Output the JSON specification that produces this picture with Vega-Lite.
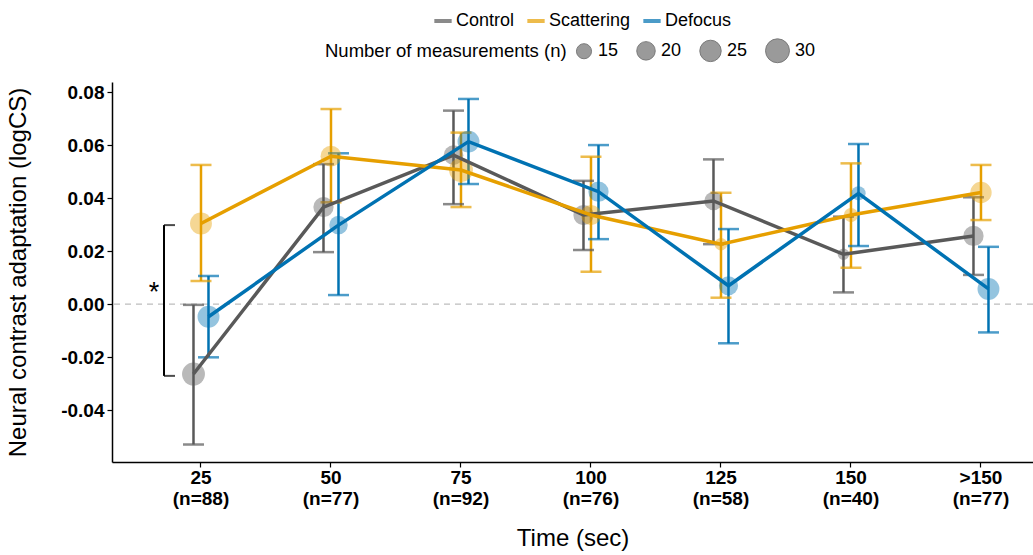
{
  "$schema": "https://vega.github.io/schema/vega-lite/v6.json",
  "width": 921,
  "height": 380,
  "autosize": {"type": "none"},
  "padding": {"left": 112, "top": 82, "right": 0, "bottom": 93},
  "background": "white",
  "config": {
    "view": {"stroke": null},
    "font": "Liberation Sans",
    "axis": {"grid": false}
  },
  "datasets": {
    "stats": [
      {"time": "25|(n=88)", "group": "Control", "mean": -0.0264, "lo": -0.0530, "hi": -0.0003, "n": 28},
      {"time": "50|(n=77)", "group": "Control", "mean": 0.0366, "lo": 0.0196, "hi": 0.0528, "n": 23},
      {"time": "75|(n=92)", "group": "Control", "mean": 0.0562, "lo": 0.0377, "hi": 0.0730, "n": 22},
      {"time": "100|(n=76)", "group": "Control", "mean": 0.0336, "lo": 0.0204, "hi": 0.0465, "n": 23},
      {"time": "125|(n=58)", "group": "Control", "mean": 0.0389, "lo": 0.0226, "hi": 0.0546, "n": 20},
      {"time": "150|(n=40)", "group": "Control", "mean": 0.0188, "lo": 0.0044, "hi": 0.0330, "n": 11},
      {"time": ">150|(n=77)", "group": "Control", "mean": 0.0257, "lo": 0.0110, "hi": 0.0403, "n": 23},
      {"time": "25|(n=88)", "group": "Scattering", "mean": 0.0304, "lo": 0.0087, "hi": 0.0525, "n": 26},
      {"time": "50|(n=77)", "group": "Scattering", "mean": 0.0558, "lo": 0.0384, "hi": 0.0736, "n": 24},
      {"time": "75|(n=92)", "group": "Scattering", "mean": 0.0506, "lo": 0.0366, "hi": 0.0647, "n": 30},
      {"time": "100|(n=76)", "group": "Scattering", "mean": 0.0336, "lo": 0.0122, "hi": 0.0556, "n": 23},
      {"time": "125|(n=58)", "group": "Scattering", "mean": 0.0226, "lo": 0.0024, "hi": 0.0420, "n": 12},
      {"time": "150|(n=40)", "group": "Scattering", "mean": 0.0336, "lo": 0.0137, "hi": 0.0531, "n": 14},
      {"time": ">150|(n=77)", "group": "Scattering", "mean": 0.0421, "lo": 0.0317, "hi": 0.0525, "n": 25},
      {"time": "25|(n=88)", "group": "Defocus", "mean": -0.0048, "lo": -0.0201, "hi": 0.0106, "n": 26},
      {"time": "50|(n=77)", "group": "Defocus", "mean": 0.0298, "lo": 0.0034, "hi": 0.0569, "n": 20},
      {"time": "75|(n=92)", "group": "Defocus", "mean": 0.0613, "lo": 0.0453, "hi": 0.0774, "n": 26},
      {"time": "100|(n=76)", "group": "Defocus", "mean": 0.0424, "lo": 0.0245, "hi": 0.0600, "n": 23},
      {"time": "125|(n=58)", "group": "Defocus", "mean": 0.0069, "lo": -0.0148, "hi": 0.0283, "n": 21},
      {"time": "150|(n=40)", "group": "Defocus", "mean": 0.0418, "lo": 0.0219, "hi": 0.0604, "n": 14},
      {"time": ">150|(n=77)", "group": "Defocus", "mean": 0.0057, "lo": -0.0107, "hi": 0.0216, "n": 26}
    ],
    "bracket": [
      {"time": "25|(n=88)", "top": 0.0298, "bottom": -0.0271, "star": "*", "starY": 0.001}
    ],
    "zero": [{"value": 0}]
  },
  "data": {"name": "stats"},
  "layer": [
    {
      "data": {"name": "zero"},
      "mark": {"type": "rule", "color": "#bdbdbd", "strokeWidth": 1.3, "strokeDash": [6, 5]},
      "encoding": {
        "y": {
          "field": "value", "type": "quantitative",
          "scale": {"domain": [-0.0596, 0.0838], "nice": false, "zero": false},
          "axis": {
            "title": "Neural contrast adaptation (logCS)",
            "values": [-0.04, -0.02, 0, 0.02, 0.04, 0.06, 0.08],
            "format": ".2f",
            "labelExpr": "replace(datum.label, '\u2212', '-')",
            "labelFontSize": 19, "labelFontWeight": "bold", "labelColor": "black",
            "labelPadding": 3,
            "domainColor": "black", "domainWidth": 1.5,
            "tickColor": "black", "tickWidth": 1.2, "tickSize": 5,
            "titleFontSize": 24, "titleFontWeight": "normal", "titleColor": "black",
            "titlePadding": 30
          }
        }
      }
    },
    {
      "mark": {"type": "rule", "strokeWidth": 2.5},
      "encoding": {
        "x": {
          "field": "time", "type": "ordinal",
          "scale": {
            "domain": ["25|(n=88)", "50|(n=77)", "75|(n=92)", "100|(n=76)", "125|(n=58)", "150|(n=40)", ">150|(n=77)"],
            "paddingInner": 0.8269, "paddingOuter": 0.4558, "align": 0.656, "round": false
          },
          "axis": {
            "title": "Time (sec)",
            "labelExpr": "split(datum.label, '|')",
            "labelAngle": 0,
            "labelFontSize": 19, "labelFontWeight": "bold", "labelColor": "black",
            "labelLineHeight": 21.5, "labelPadding": 1,
            "domainColor": "black", "domainWidth": 1.5,
            "tickColor": "black", "tickWidth": 1.2, "tickSize": 5,
            "titleFontSize": 24, "titleFontWeight": "normal", "titleColor": "black",
            "titlePadding": 18
          }
        },
        "xOffset": {
          "field": "group", "type": "nominal",
          "scale": {"domain": ["Control", "Scattering", "Defocus"], "paddingInner": 0, "paddingOuter": 0}
        },
        "y": {"field": "lo", "type": "quantitative"},
        "y2": {"field": "hi"},
        "color": {
          "field": "group", "type": "nominal",
          "scale": {"domain": ["Control", "Scattering", "Defocus"], "range": ["#595959", "#E69F00", "#0072B2"]},
          "legend": {
            "orient": "none", "legendX": 320, "legendY": -72,
            "direction": "horizontal", "title": null,
            "symbolType": "stroke", "symbolStrokeWidth": 4, "symbolSize": 300,
            "labelFontSize": 18, "labelColor": "black", "labelOffset": 2,
            "columnPadding": 4
          }
        }
      }
    },
    {
      "mark": {"type": "tick", "thickness": 2.5, "size": 21, "orient": "horizontal"},
      "encoding": {
        "x": {"field": "time", "type": "ordinal"},
        "xOffset": {"field": "group", "type": "nominal"},
        "y": {"field": "lo", "type": "quantitative"},
        "color": {"field": "group", "type": "nominal"}
      }
    },
    {
      "mark": {"type": "tick", "thickness": 2.5, "size": 21, "orient": "horizontal"},
      "encoding": {
        "x": {"field": "time", "type": "ordinal"},
        "xOffset": {"field": "group", "type": "nominal"},
        "y": {"field": "hi", "type": "quantitative"},
        "color": {"field": "group", "type": "nominal"}
      }
    },
    {
      "mark": {"type": "circle", "opacity": 0.42},
      "encoding": {
        "x": {"field": "time", "type": "ordinal"},
        "xOffset": {"field": "group", "type": "nominal"},
        "y": {"field": "mean", "type": "quantitative"},
        "color": {"field": "group", "type": "nominal"},
        "size": {
          "field": "n", "type": "quantitative",
          "scale": {"domain": [15, 30], "range": [227, 572], "zero": false, "clamp": false},
          "legend": {
            "orient": "none", "legendX": 213, "legendY": -44,
            "direction": "horizontal",
            "title": "Number of measurements (n)",
            "titleOrient": "left", "titleFontSize": 18.5, "titleFontWeight": "normal", "titleColor": "black",
            "titlePadding": 8, "titleLimit": 500,
            "values": [15, 20, 25, 30],
            "symbolFillColor": "#9a9a9a", "symbolStrokeColor": "#7a7a7a", "symbolStrokeWidth": 1, "symbolOpacity": 1,
            "labelFontSize": 18, "labelColor": "black", "labelOffset": 5,
            "columnPadding": 15
          }
        }
      }
    },
    {
      "mark": {"type": "line", "strokeWidth": 3.5},
      "encoding": {
        "x": {"field": "time", "type": "ordinal"},
        "xOffset": {"field": "group", "type": "nominal"},
        "y": {"field": "mean", "type": "quantitative"},
        "color": {"field": "group", "type": "nominal"}
      }
    },
    {
      "data": {"name": "bracket"},
      "mark": {"type": "rule", "color": "black", "strokeWidth": 2, "xOffset": -37},
      "encoding": {
        "x": {"field": "time", "type": "ordinal"},
        "y": {"field": "top", "type": "quantitative"},
        "y2": {"field": "bottom"}
      }
    },
    {
      "data": {"name": "bracket"},
      "mark": {"type": "tick", "color": "black", "thickness": 2, "size": 11, "orient": "horizontal", "xOffset": -31.5},
      "encoding": {
        "x": {"field": "time", "type": "ordinal"},
        "y": {"field": "top", "type": "quantitative"}
      }
    },
    {
      "data": {"name": "bracket"},
      "mark": {"type": "tick", "color": "black", "thickness": 2, "size": 11, "orient": "horizontal", "xOffset": -31.5},
      "encoding": {
        "x": {"field": "time", "type": "ordinal"},
        "y": {"field": "bottom", "type": "quantitative"}
      }
    },
    {
      "data": {"name": "bracket"},
      "mark": {"type": "text", "color": "black", "fontSize": 27, "baseline": "alphabetic", "align": "center", "xOffset": -47},
      "encoding": {
        "x": {"field": "time", "type": "ordinal"},
        "y": {"field": "starY", "type": "quantitative"},
        "text": {"field": "star"}
      }
    }
  ]
}
